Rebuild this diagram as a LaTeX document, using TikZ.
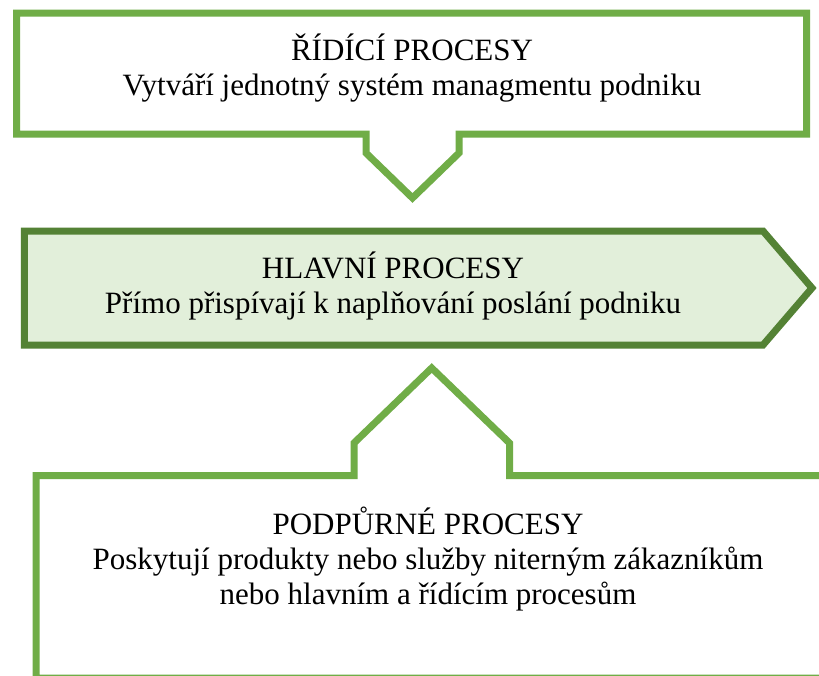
\documentclass[tikz,border=0pt]{standalone}
\usepackage{fontspec}
\setmainfont{Liberation Serif}
\definecolor{lgreen}{HTML}{70AD47}
\definecolor{dgreen}{HTML}{548235}
\definecolor{pale}{HTML}{E2EFDA}
\begin{document}
\begin{tikzpicture}[x=1pt,y=-1pt,
  frame/.style={line width=7pt, line join=miter, miter limit=10},
  txt/.style={anchor=base, inner sep=0pt, font=\fontsize{31}{35}\selectfont}]
\useasboundingbox (0,0) rectangle (819,675);
\clip (0,0) rectangle (819,675);
\fill[white] (0,0) rectangle (819,675);

% control processes: box with a downward notch
\draw[frame, draw=lgreen, fill=white]
  (16.7,13) -- (806.7,13) -- (806.7,134) -- (459,134) -- (459,153)
  -- (412.5,198) -- (366,153) -- (366,134) -- (16.7,134) -- cycle;
\node[txt] (ctitle) at (412,60) {ŘÍDÍCÍ PROCESY};
\node[txt] (ctext)  at (412,95) {Vytváří jednotný systém managmentu podniku};

% main processes: pentagon arrow
\draw[frame, draw=dgreen, fill=pale]
  (24.3,231) -- (763,231) -- (812,288) -- (763,345) -- (24.3,345) -- cycle;
\node[txt] (mtitle) at (393,278) {HLAVNÍ PROCESY};
\node[txt] (mtext)  at (393,313) {Přímo přispívají k naplňování poslání podniku};

% support processes: box with an upward bump
\draw[frame, draw=lgreen, fill=white]
  (36,678) -- (36,475.5) -- (354,475.5) -- (354,443) -- (431.7,368)
  -- (509.5,443) -- (509.5,475.5) -- (840,475.5) -- (840,678) -- cycle;
\node[txt] (stitle) at (428,534) {PODPŮRNÉ PROCESY};
\node[txt] (stext)  at (428,569) {Poskytují produkty nebo služby niterným zákazníkům};
\node[txt] (stext2) at (428,604) {nebo hlavním a řídícím procesům};
\end{tikzpicture}
\end{document}
